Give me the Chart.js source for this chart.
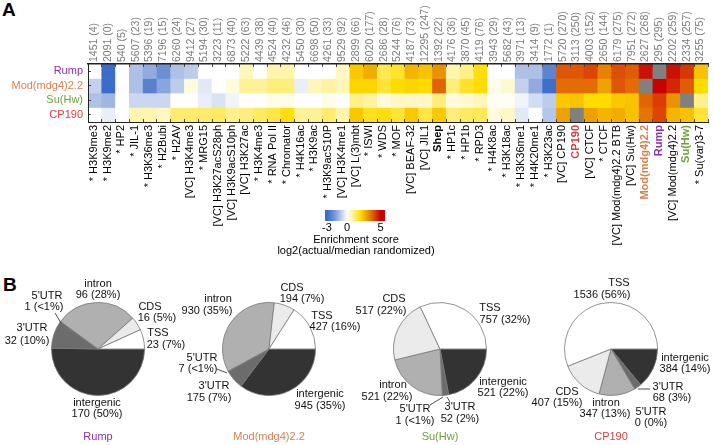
<!DOCTYPE html>
<html>
<head>
<meta charset="utf-8">
<title>Enrichment heatmap and genomic region pies</title>
<script src="https://cdn.jsdelivr.net/npm/chart.js@4/dist/chart.umd.min.js"></script>
<style>
  html, body { margin: 0; background: #fff; }
  body { position: relative; width: 714px; height: 445px; overflow: hidden; }
  canvas { position: absolute; }
  .panel { position: absolute; font: bold 19px "Liberation Sans", Arial, sans-serif; color: #000; }
  .cbar-title { position: absolute; left: 256px; top: 234px; width: 200px; text-align: center; color: #000;
    font: 11px/11px "Liberation Sans", Arial, sans-serif; }
</style>
</head>
<body>
<div class="panel" style="left:2px;top:-1px">A</div>
<div class="panel" style="left:3px;top:274px">B</div>
<canvas id="heatmap" width="714" height="252" style="left:0;top:0"></canvas>
<canvas id="colorbar" width="200" height="40" style="left:255px;top:205px"></canvas>
<div class="cbar-title">Enrichment score<br>log2(actual/median randomized)</div>
<canvas id="pie0" width="200" height="190" style="left:-2px;top:254px"></canvas>
<canvas id="pie1" width="200" height="190" style="left:169px;top:254px"></canvas>
<canvas id="pie2" width="200" height="190" style="left:340px;top:254px"></canvas>
<canvas id="pie3" width="200" height="190" style="left:511px;top:254px"></canvas>

<script>
// ---- data ----
const marks = ['* H3K9me3', '* H3K9me2', '* HP2', '* JIL-1', '* H3K36me3', '* H2Bubi', '* H2AV', '[VC] H3K4me3', '* MRG15',
  '[VC] H3K27acS28ph', '[VC] H3K9acS10ph', '[VC] H3K27ac', '* H3K4me3', '* RNA Pol II', '* Chromator', '* H4K16ac', '* H3K9ac',
  '* H3K9acS10P', '[VC] H3K4me1', '[VC] L(3)mbt', '* ISWI', '* WDS', '* MOF', '[VC] BEAF-32', '[VC] JIL1', 'Shep', '* HP1c',
  '* HP1b', '* RPD3', '* H4K8ac', '* H3K18ac', '* H3K36me1', '* H4K20me1', '* H3K23ac', '[VC] CP190', 'CP190', '[VC] CTCF',
  '* CTCF', '[VC] Mod(mdg4)2.2 BTB', '[VC] Su(Hw)', 'Mod(mdg4)2.2', 'Rump', '[VC] Mod(mdg4)2.2', 'Su(Hw)', '* Su(var)3-7'];
const peakCounts = ['1451 (4)', '2091 (0)', '540 (5)', '5607 (23)', '5396 (19)', '7196 (15)', '6260 (24)', '9412 (27)', '5194 (30)',
  '3223 (11)', '6873 (40)', '5222 (63)', '4439 (38)', '4524 (40)', '4232 (46)', '5450 (30)', '6698 (50)', '4261 (33)', '9529 (92)',
  '2899 (66)', '6020 (177)', '2686 (28)', '5244 (76)', '4187 (73)', '12295 (247)', '1392 (22)', '4176 (36)', '3870 (45)', '4119 (76)',
  '3943 (29)', '5682 (43)', '3971 (13)', '3414 (9)', '1772 (1)', '5720 (270)', '3113 (250)', '4003 (152)', '2650 (144)', '6179 (275)',
  '7951 (272)', '2627 (268)', '295 (295)', '2202 (259)', '2334 (257)', '3255 (75)'];
const proteins = ['Rump', 'Mod(mdg4)2.2', 'Su(Hw)', 'CP190'];

// enrichment score per mark, null = not compared (grey)
const rumpScores = [0, -3, 0, -1.1, -1.5, -2, -1.1, -0.9, 0, 0, 0, 0.6, 0, 0.7, 0.7, 0, 0, 0, 0.5, 2.3, 2.7, 1.4, 1.7, 2.6, 2.4, 3.1,
  0.7, 1.0, 1.9, 0, 0, -1.1, -1.1, -2.3, 3.9, 3.9, 4.1, 3.3, 4.0, 3.8, 4.8, null, 4.8, 4.3, 2.4];
const modScores = [-0.8, -3, 0, -1.1, -2.4, -1.6, -0.9, 0.3, -0.4, 0, 0.3, 0.9, 0.9, 1.1, 1.1, -0.3, 0.6, 0.8, 0.6, 2.1, 2.1, 1.6, 2.0, 2.1,
  2.0, 3.7, 1.1, 1.7, 2.0, 0.2, 0.4, -0.8, -1.5, -2.9, 3.6, 3.6, 3.6, 2.9, 3.9, 3.6, null, 5, 4.5, 3.8, 2.0];
const suScores = [-1.1, -1.3, 0, -0.7, -0.7, -0.7, 0, 0, -0.3, -0.5, -0.2, 0, 0, 0.2, 0.2, 0, 0, 0.2, 0, 1.0, 0.8, 0.3, 0.5, 0.5, 0.5, 1.1,
  0.3, 0.4, 0.6, 0.1, 0.1, -0.2, -0.6, -0.9, 2.3, 2.4, 2.0, 2.0, 2.3, 2.4, 3.7, 4.2, 3.1, null, 1.0];
const cpScores = [0, -0.3, 0, 0.7, 0.7, 0.5, 1.2, 1.2, 1.2, 1.3, 1.0, 1.1, 1.3, 1.5, 1.9, 0.9, 0.9, 1.2, 0.7, 2.3, 1.8, 1.9, 1.6, 2.3, 1.5, 2.3,
  1.1, 1.3, 1.4, 0.3, 0.5, -0.4, 0, -1.0, 2.9, null, 2.9, 2.6, 2.7, 2.4, 3.5, 4.1, 2.6, 2.4, 1.6];
const scoreRows = [rumpScores, modScores, suScores, cpScores];

const colorbarTicks = [-3, 0, 5];

// pies run clockwise from 3 o'clock
const regions = ['intergenic', "3'UTR", "5'UTR", 'intron', 'CDS', 'TSS'];
const pieNames = ['Rump', 'Mod(mdg4)2.2', 'Su(Hw)', 'CP190'];
const rumpCounts = [170, 32, 1, 96, 16, 23];
const modCounts = [945, 175, 7, 930, 194, 427];
const suCounts = [521, 52, 1, 521, 517, 757];
const cpCounts = [384, 68, 0, 347, 407, 1536];
const rumpPct = ['50%', '10%', '<1%', '28%', '5%', '7%'];
const modPct = ['35%', '7%', '<1%', '35%', '7%', '16%'];
const suPct = ['22%', '2%', '<1%', '22%', '22%', '32%'];
const cpPct = ['14%', '3%', '0%', '13%', '15%', '56%'];
const pieCounts = [rumpCounts, modCounts, suCounts, cpCounts];
const piePct = [rumpPct, modPct, suPct, cpPct];

// ---- styling ----
const FONT = '"Liberation Sans", Arial, sans-serif';
const proteinColor = { 'Rump': '#8b2fa8', 'Mod(mdg4)2.2': '#d8804e', 'Su(Hw)': '#6f9f3c', 'CP190': '#d4403f' };
const regionColor = ['#333333', '#6c6c6c', '#333333', '#b0b0b0', '#ebebeb', '#ffffff'];
const colorStops = [[-3, '#3a6cc8'], [-2, '#6d8fd6'], [-1, '#b4c6e9'], [0, '#ffffff'], [1, '#fff08a'], [2, '#ffdc00'],
  [3, '#ec9a00'], [4, '#dd4e06'], [5, '#c80000']];

function hexToRgb(h) {
  return [1, 3, 5].map(i => parseInt(h.slice(i, i + 2), 16));
}

function scoreColor(v) {
  if (v === null) return '#808080';
  const c = Math.max(-3, Math.min(5, v));
  let i = 0;
  while (i < colorStops.length - 2 && c > colorStops[i + 1][0]) i++;
  const [a, ca] = colorStops[i], [b, cb] = colorStops[i + 1];
  const t = (c - a) / (b - a);
  const A = hexToRgb(ca), B = hexToRgb(cb);
  return `rgb(${A.map((x, k) => Math.round(x + (B[k] - x) * t)).join(',')})`;
}

Chart.defaults.animation = false;
Chart.defaults.responsive = false;
Chart.defaults.font.family = FONT;
Chart.defaults.plugins.legend.display = false;
Chart.defaults.plugins.tooltip.enabled = false;

// ---- heatmap: stacked one-unit bars, one dataset per protein ----
const boldMarks = ['Shep', 'CP190', 'Mod(mdg4)2.2', 'Rump', 'Su(Hw)'];
const axisBorder = w => ({ display: true, color: '#222', width: w, z: 1 });
const inwardTicks = { drawOnChartArea: false, drawTicks: true, tickLength: -3, tickColor: '#444', z: 1 };

new Chart(document.getElementById('heatmap'), {
  type: 'bar',
  data: {
    labels: marks,
    datasets: proteins.map((p, r) => ({
      label: p,
      data: marks.map(() => 1),
      backgroundColor: scoreRows[r].map(scoreColor),
      borderWidth: 0,
      barPercentage: 1,
      categoryPercentage: 1,
      stack: 'rows'
    }))
  },
  options: {
    layout: { padding: { right: 6 } },
    scales: {
      x: {
        position: 'bottom',
        stacked: true,
        afterFit: s => { s.height = 130; s.paddingRight = 0; s.paddingLeft = 0; },
        grid: inwardTicks,
        border: axisBorder(1),
        ticks: {
          autoSkip: false, minRotation: 90, maxRotation: 90, padding: 6, labelOffset: -1,
          font: ctx => ({ size: 11, family: FONT, weight: boldMarks.includes(marks[ctx.index]) ? 'bold' : 'normal' }),
          color: ctx => proteinColor[marks[ctx.index]] || '#000'
        }
      },
      x2: {
        type: 'category',
        axis: 'x',
        position: 'top',
        offset: true,
        labels: peakCounts,
        afterFit: s => { s.height = 64; s.paddingRight = 0; s.paddingLeft = 0; },
        grid: inwardTicks,
        border: axisBorder(1.6),
        ticks: {
          autoSkip: false, minRotation: 90, maxRotation: 90, padding: 5, labelOffset: 12,
          color: '#7a7a7a', font: { size: 10.5 }
        }
      },
      y: {
        stacked: true,
        reverse: true,
        min: 0,
        max: 4,
        afterFit: s => { s.width = 88; },
        afterBuildTicks: s => { s.ticks = proteins.map((p, i) => ({ value: i + 0.5 })); },
        grid: inwardTicks,
        border: axisBorder(1),
        ticks: {
          autoSkip: false, padding: 8, font: { size: 11 },
          callback: (v, i) => proteins[i],
          color: ctx => proteinColor[proteins[ctx.index]]
        }
      }
    }
  }
});

// ---- colour bar ----
new Chart(document.getElementById('colorbar'), {
  type: 'bar',
  data: {
    labels: ['score'],
    datasets: [{
      data: [[-3.3, 5.65]],
      barPercentage: 1,
      categoryPercentage: 1,
      borderWidth: 0,
      backgroundColor: ctx => {
        const x = ctx.chart.scales.x;
        const x0 = x ? x.getPixelForValue(-3) : NaN, x1 = x ? x.getPixelForValue(5) : NaN;
        if (!Number.isFinite(x0) || !Number.isFinite(x1)) return '#fff';
        const g = ctx.chart.ctx.createLinearGradient(x0, 0, x1, 0);
        colorStops.forEach(([v, c]) => g.addColorStop((v + 3) / 8, c));
        return g;
      }
    }]
  },
  options: {
    indexAxis: 'y',
    layout: { padding: { left: 70, right: 70, top: 5 } },
    scales: {
      y: { display: false },
      x: {
        type: 'linear',
        min: -3.3,
        max: 5.65,
        afterFit: s => { s.height = 24; },
        afterBuildTicks: s => { s.ticks = colorbarTicks.map(v => ({ value: v })); },
        grid: { display: false, drawTicks: false },
        border: { display: false },
        ticks: { autoSkip: false, maxRotation: 0, padding: 0, color: '#000', font: { size: 11 }, callback: v => String(v) }
      }
    }
  }
});

// ---- pies ----
// label anchors in px from the pie centre: [name line x, y, count line x, y], same order as regions
const labelAnchors = [
  [[-1, 54, -1, 65], [-66, -21, -71, -8], [-51, -53, -54, -42], [0, -65, 0, -54], [52, -42, 59, -31], [60, -16, 68, -4]],
  [[51, 45, 51, 57], [-55, 37, -60, 49], [-67, 9, -71, 20], [-51, -50, -62, -38], [23, -61, 33, -50], [53, -33, 66, -22]],
  [[63, 33, 63, 44], [20, 58, 20, 70], [-25, 60, -25, 72], [-47, 36, -53, 48], [-46, -50, -59, -38], [50, -41, 65, -29]],
  [[74, 9, 74, 20], [57, 38, 61, 49], [40, 63, 40, 74], [-5, 54, -6, 65], [-44, 43, -54, 54], [8, -66, -9, -54]]
];
// little leader lines [x1, y1, x2, y2] from the pie centre
const leaderLines = [
  [[-43, -36, -37, -26]],
  [[-52, 20, -42, 24]],
  [[-10, 56, 3, 48], [10, 53, 7, 48]],
  [[39, 40, 27, 40]]
];

function pieLabels(index) {
  return {
    id: 'pieLabels' + index,
    afterDraw(chart) {
      const ctx = chart.ctx;
      const a = chart.chartArea;
      const cx = (a.left + a.right) / 2, cy = (a.top + a.bottom) / 2;
      ctx.save();
      ctx.strokeStyle = '#222';
      ctx.lineWidth = 0.8;
      leaderLines[index].forEach(([x1, y1, x2, y2]) => {
        ctx.beginPath();
        ctx.moveTo(cx + x1, cy + y1);
        ctx.lineTo(cx + x2, cy + y2);
        ctx.stroke();
      });
      ctx.font = `11px ${FONT}`;
      ctx.textAlign = 'center';
      ctx.textBaseline = 'middle';
      ctx.fillStyle = '#111';
      regions.forEach((name, i) => {
        const [x1, y1, x2, y2] = labelAnchors[index][i];
        ctx.fillText(name, cx + x1, cy + y1);
        ctx.fillText(`${pieCounts[index][i]} (${piePct[index][i]})`, cx + x2, cy + y2);
      });
      ctx.fillStyle = proteinColor[pieNames[index]];
      ctx.fillText(pieNames[index], cx, cy + 88);
      ctx.restore();
    }
  };
}

pieNames.forEach((name, i) => {
  new Chart(document.getElementById('pie' + i), {
    type: 'pie',
    data: {
      labels: regions,
      datasets: [{
        label: name,
        data: pieCounts[i],
        backgroundColor: regionColor,
        borderColor: '#777',
        borderWidth: 0.8
      }]
    },
    options: { rotation: 90, radius: 46.5 },
    plugins: [pieLabels(i)]
  });
});
</script>
</body>
</html>
